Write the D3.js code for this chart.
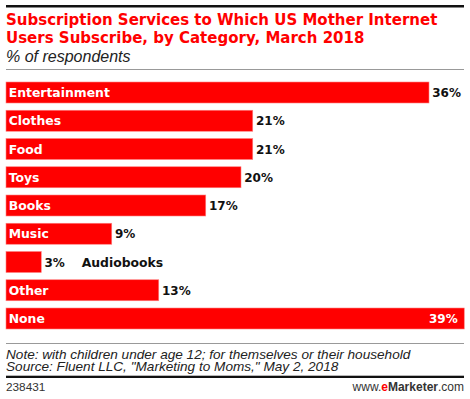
<!DOCTYPE html>
<html>
<head>
<meta charset="utf-8">
<script src="https://cdn.jsdelivr.net/npm/d3@7"></script>
<style>
  body { margin: 0; background: #fff; }
  text { font-family: "Liberation Sans", Arial, sans-serif; }
  .bold { font-family: "DejaVu Sans", Verdana, sans-serif; font-weight: bold; }
</style>
</head>
<body>
<div id="chart"></div>
<script>
const categories = ['Entertainment', 'Clothes', 'Food', 'Toys', 'Books', 'Music', 'Audiobooks', 'Other', 'None'];
const values = [36, 21, 21, 20, 17, 9, 3, 13, 39];
const titleLines = ['Subscription Services to Which US Mother Internet', 'Users Subscribe, by Category, March 2018'];
const subtitle = '% of respondents';
const notes = ['Note: with children under age 12; for themselves or their household',
  'Source: Fluent LLC, "Marketing to Moms," May 2, 2018'];
const chartId = '238431';

const width = 470;
const height = 399;

const svg = d3.select('#chart')
  .append('svg')
  .attr('width', width)
  .attr('height', height);

// top rule
svg.append('rect').attr('x', 6).attr('y', 5).attr('width', 458).attr('height', 2.5).attr('fill', '#111');

// title
svg.selectAll('.title')
  .data(titleLines)
  .enter()
  .append('text')
  .attr('class', 'title bold')
  .attr('x', 6)
  .attr('y', (d, i) => 24.7 + i * 18.3)
  .attr('fill', '#f00')
  .attr('font-size', 15)
  .text(d => d);

svg.append('text')
  .attr('x', 6)
  .attr('y', 62)
  .attr('font-size', 16)
  .attr('font-style', 'italic')
  .attr('fill', '#222')
  .text(subtitle);

svg.append('rect').attr('x', 6).attr('y', 69).attr('width', 458).attr('height', 1).attr('fill', '#999');

// scales
const step = 28.25;
const barH = 21;
const x = d3.scaleLinear()
  .domain([0, 39])
  .range([6, 464.25]);

const y = d3.scaleBand()
  .domain(categories)
  .range([82, 82 + step * (categories.length - 1) + barH])
  .paddingInner((step - barH) / step)
  .paddingOuter(0);

const rows = categories.map((c, i) => ({ cat: c, val: values[i] }));

const group = svg.append('g').attr('class', 'bars');

group.selectAll('rect')
  .data(rows)
  .enter()
  .append('rect')
  .attr('x', x(0))
  .attr('y', d => y(d.cat))
  .attr('width', d => x(d.val) - x(0))
  .attr('height', y.bandwidth())
  .attr('fill', '#f00')
  .attr('stroke', '#ff8080')
  .attr('stroke-width', 0.6);

// category labels
group.selectAll('.cat')
  .data(rows)
  .enter()
  .append('text')
  .attr('class', 'cat bold')
  .attr('x', d => d.cat === 'Audiobooks' ? 81.7 : x(0) + 2.7)
  .attr('y', d => y(d.cat) + y.bandwidth() / 2 + 4.5)
  .attr('font-size', 12.4)
  .attr('fill', d => d.cat === 'Audiobooks' ? '#111' : '#fff')
  .text(d => d.cat);

// value labels
const maxVal = d3.max(values);
group.selectAll('.val')
  .data(rows)
  .enter()
  .append('text')
  .attr('class', 'val bold')
  .attr('x', d => d.val === maxVal ? x(d.val) - 6.5 : x(d.val) + 3.2)
  .attr('y', d => y(d.cat) + y.bandwidth() / 2 + 4.5)
  .attr('text-anchor', d => d.val === maxVal ? 'end' : 'start')
  .attr('font-size', 12)
  .attr('fill', d => d.val === maxVal ? '#fff' : '#111')
  .text(d => d.val + '%');

// footer
svg.append('rect').attr('x', 6).attr('y', 343).attr('width', 458).attr('height', 1).attr('fill', '#999');

svg.selectAll('.note')
  .data(notes)
  .enter()
  .append('text')
  .attr('class', 'note')
  .attr('x', 6)
  .attr('y', (d, i) => 358.7 + i * 12)
  .attr('font-size', 13.6)
  .attr('font-style', 'italic')
  .attr('fill', '#222')
  .text(d => d);

svg.append('rect').attr('x', 6).attr('y', 375.7).attr('width', 458).attr('height', 2.3).attr('fill', '#111');

svg.append('text')
  .attr('x', 6)
  .attr('y', 391)
  .attr('font-size', 11.8)
  .attr('fill', '#333')
  .text(chartId);

const brand = svg.append('text')
  .attr('x', 464)
  .attr('y', 391)
  .attr('text-anchor', 'end')
  .attr('font-size', 12)
  .attr('fill', '#333');
brand.append('tspan').text('www.');
brand.append('tspan').attr('fill', '#f00').attr('font-weight', 'bold').text('e');
brand.append('tspan').attr('font-weight', 'bold').text('Marketer');
brand.append('tspan').text('.com');
</script>
</body>
</html>
